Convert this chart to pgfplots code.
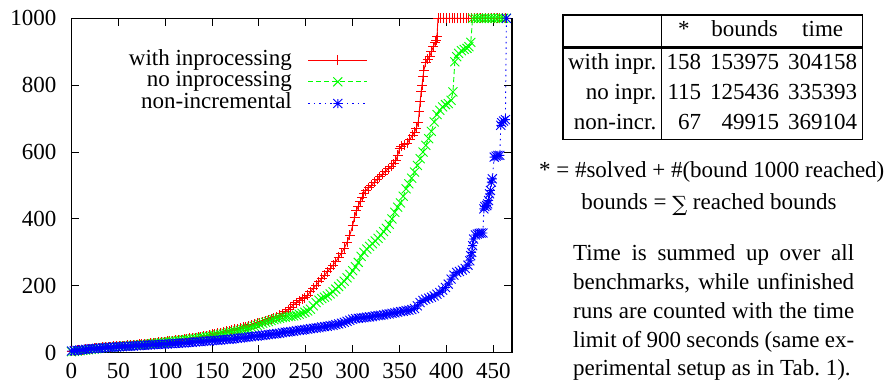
\documentclass[border=0pt]{standalone}
\usepackage{fontspec}
\setmainfont{Liberation Serif}
\newfontfamily\dejavuserif{DejaVu Serif}
\usepackage{pgfplots}
\pgfplotsset{compat=1.18}
\usepackage{pgfplotstable}

\pgfdeclareplotmark{gpplus}{%
  \pgfpathmoveto{\pgfqpoint{-\pgfplotmarksize}{0pt}}\pgfpathlineto{\pgfqpoint{\pgfplotmarksize}{0pt}}%
  \pgfpathmoveto{\pgfqpoint{0pt}{-\pgfplotmarksize}}\pgfpathlineto{\pgfqpoint{0pt}{\pgfplotmarksize}}%
  \pgfusepathqstroke}
\pgfdeclareplotmark{gpcross}{%
  \pgfpathmoveto{\pgfqpoint{-\pgfplotmarksize}{-\pgfplotmarksize}}\pgfpathlineto{\pgfqpoint{\pgfplotmarksize}{\pgfplotmarksize}}%
  \pgfpathmoveto{\pgfqpoint{-\pgfplotmarksize}{\pgfplotmarksize}}\pgfpathlineto{\pgfqpoint{\pgfplotmarksize}{-\pgfplotmarksize}}%
  \pgfusepathqstroke}
\pgfdeclareplotmark{gpstar}{%
  \pgfpathmoveto{\pgfqpoint{-\pgfplotmarksize}{0pt}}\pgfpathlineto{\pgfqpoint{\pgfplotmarksize}{0pt}}%
  \pgfpathmoveto{\pgfqpoint{0pt}{-\pgfplotmarksize}}\pgfpathlineto{\pgfqpoint{0pt}{\pgfplotmarksize}}%
  \pgfpathmoveto{\pgfqpoint{-\pgfplotmarksize}{-\pgfplotmarksize}}\pgfpathlineto{\pgfqpoint{\pgfplotmarksize}{\pgfplotmarksize}}%
  \pgfpathmoveto{\pgfqpoint{-\pgfplotmarksize}{\pgfplotmarksize}}\pgfpathlineto{\pgfqpoint{\pgfplotmarksize}{-\pgfplotmarksize}}%
  \pgfusepathqstroke}

% with inprocessing
\pgfplotstableread[row sep=\\]{
x y\\
0 5\\ 3 6\\ 6 7\\ 9 8\\ 12 9\\ 15 10\\ 18 11\\ 21 12\\ 24 13\\ 27 14\\ 30 15\\ 33 16\\ 36 17\\ 39 17\\ 42 18\\ 45 19\\ 48 19\\ 51 20\\ 54 21\\ 57 21\\ 60 22\\ 63 23\\ 66 23\\ 69 24\\ 72 25\\ 75 26\\ 78 26\\ 81 27\\ 84 28\\ 87 29\\ 90 30\\ 93 31\\ 96 32\\ 99 33\\ 102 34\\ 105 35\\ 108 36\\ 111 37\\ 114 38\\ 117 39\\ 120 40\\ 123 41\\ 126 43\\ 129 44\\ 132 45\\ 135 47\\ 138 48\\ 141 50\\ 144 51\\ 147 53\\ 150 55\\ 153 57\\ 156 58\\ 159 60\\ 162 62\\ 165 64\\ 168 66\\ 171 68\\ 174 70\\ 177 72\\ 180 74\\ 183 76\\ 186 78\\ 189 80\\ 192 83\\ 195 85\\ 198 88\\ 201 90\\ 204 93\\ 207 96\\ 210 99\\ 213 102\\ 216 105\\ 219 108\\ 222 112\\ 225 117\\ 228 123\\ 231 129\\ 234 136\\ 237 143\\ 240 150\\ 243 156\\ 246 161\\ 249 165\\ 252 172\\ 255 183\\ 258 193\\ 261 202\\ 264 212\\ 267 222\\ 270 232\\ 273 242\\ 276 252\\ 279 262\\ 282 272\\ 285 285\\ 288 298\\ 291 312\\ 294 330\\ 297 352\\ 300 380\\ 302 405\\ 304 425\\ 306 438\\ 308 452\\ 310 465\\ 312 475\\ 314 485\\ 317 493\\ 320 500\\ 323 510\\ 326 518\\ 329 526\\ 332 534\\ 335 543\\ 338 550\\ 341 557\\ 344 565\\ 346 575\\ 348 590\\ 350 610\\ 352 618\\ 355 622\\ 358 626\\ 361 638\\ 364 651\\ 366 660\\ 368 672\\ 370 690\\ 371 720\\ 372 750\\ 373 780\\ 374 800\\ 375 825\\ 376 845\\ 378 868\\ 380 878\\ 382 885\\ 384 900\\ 386 915\\ 388 928\\ 389 935\\ 390 945\\ 391 1000\\ 394 1000\\ 397 1000\\ 400 1000\\ 403 1000\\ 406 1000\\ 409 1000\\ 412 1000\\ 415 1000\\ 418 1000\\ 421 1000\\ 424 1000\\ 427 1000\\ 430 1000\\ 433 1000\\ 436 1000\\ 439 1000\\ 442 1000\\ 445 1000\\ 448 1000\\ 451 1000\\ 454 1000\\ 457 1000\\ 460 1000\\ 463 1000\\
}\redtab

% no inprocessing
\pgfplotstableread[row sep=\\]{
x y\\
0 3\\ 3 4\\ 6 5\\ 9 6\\ 12 7\\ 15 8\\ 18 9\\ 21 10\\ 24 11\\ 27 12\\ 30 13\\ 33 14\\ 36 15\\ 39 16\\ 42 16\\ 45 17\\ 48 18\\ 51 18\\ 54 19\\ 57 20\\ 60 20\\ 63 21\\ 66 22\\ 69 22\\ 72 23\\ 75 24\\ 78 24\\ 81 25\\ 84 26\\ 87 27\\ 90 28\\ 93 29\\ 96 30\\ 99 31\\ 102 32\\ 105 33\\ 108 34\\ 111 35\\ 114 36\\ 117 37\\ 120 38\\ 123 39\\ 126 40\\ 129 41\\ 132 42\\ 135 44\\ 138 45\\ 141 46\\ 144 48\\ 147 49\\ 150 50\\ 153 52\\ 156 53\\ 159 55\\ 162 56\\ 165 58\\ 168 60\\ 171 62\\ 174 63\\ 177 65\\ 180 67\\ 183 69\\ 186 71\\ 189 73\\ 192 76\\ 195 79\\ 198 82\\ 201 85\\ 204 88\\ 207 91\\ 210 93\\ 213 96\\ 216 99\\ 219 101\\ 222 103\\ 225 105\\ 228 106\\ 231 108\\ 234 109\\ 237 110\\ 240 112\\ 243 115\\ 246 118\\ 249 121\\ 252 125\\ 255 130\\ 258 140\\ 261 150\\ 264 157\\ 267 162\\ 270 166\\ 273 170\\ 276 176\\ 279 182\\ 282 190\\ 285 198\\ 288 206\\ 291 214\\ 294 224\\ 297 234\\ 300 245\\ 303 257\\ 306 270\\ 309 288\\ 312 300\\ 315 310\\ 318 318\\ 321 326\\ 324 334\\ 327 342\\ 330 352\\ 333 362\\ 336 372\\ 339 384\\ 342 400\\ 345 420\\ 348 435\\ 351 448\\ 354 468\\ 357 490\\ 360 505\\ 363 522\\ 366 540\\ 369 560\\ 372 580\\ 375 600\\ 378 620\\ 381 640\\ 384 662\\ 387 690\\ 390 712\\ 393 725\\ 396 735\\ 399 742\\ 402 745\\ 405 755\\ 407 780\\ 409 870\\ 411 885\\ 413 895\\ 416 903\\ 419 907\\ 422 910\\ 424 915\\ 426 928\\ 428 1000\\ 431 1000\\ 434 1000\\ 437 1000\\ 440 1000\\ 443 1000\\ 446 1000\\ 449 1000\\ 452 1000\\ 455 1000\\ 458 1000\\ 461 1000\\ 464 1000\\
}\greentab

% non-incremental
\pgfplotstableread[row sep=\\]{
x y\\
0 5\\ 3 6\\ 6 7\\ 9 8\\ 12 9\\ 15 10\\ 18 11\\ 21 12\\ 24 12\\ 27 13\\ 30 14\\ 33 14\\ 36 15\\ 39 16\\ 42 16\\ 45 17\\ 48 17\\ 51 18\\ 54 18\\ 57 19\\ 60 19\\ 63 20\\ 66 20\\ 69 21\\ 72 21\\ 75 22\\ 78 22\\ 81 23\\ 84 23\\ 87 24\\ 90 24\\ 93 25\\ 96 25\\ 99 26\\ 102 26\\ 105 27\\ 108 27\\ 111 28\\ 114 28\\ 117 29\\ 120 29\\ 123 30\\ 126 31\\ 129 31\\ 132 32\\ 135 33\\ 138 33\\ 141 34\\ 144 35\\ 147 35\\ 150 36\\ 153 37\\ 156 37\\ 159 38\\ 162 39\\ 165 40\\ 168 40\\ 171 41\\ 174 42\\ 177 43\\ 180 44\\ 183 45\\ 186 46\\ 189 47\\ 192 48\\ 195 49\\ 198 50\\ 201 51\\ 204 52\\ 207 53\\ 210 54\\ 213 55\\ 216 56\\ 219 57\\ 222 58\\ 225 60\\ 228 61\\ 231 62\\ 234 63\\ 237 64\\ 240 66\\ 243 67\\ 246 68\\ 249 69\\ 252 70\\ 255 72\\ 258 73\\ 261 74\\ 264 75\\ 267 77\\ 270 78\\ 273 79\\ 276 81\\ 279 82\\ 282 84\\ 285 86\\ 288 88\\ 291 91\\ 294 94\\ 297 97\\ 300 100\\ 303 102\\ 306 103\\ 309 104\\ 312 105\\ 315 106\\ 318 107\\ 321 108\\ 324 110\\ 327 111\\ 330 112\\ 333 113\\ 336 115\\ 339 116\\ 342 118\\ 345 119\\ 348 121\\ 351 123\\ 354 124\\ 357 126\\ 360 127\\ 363 129\\ 366 132\\ 369 140\\ 372 150\\ 375 156\\ 378 160\\ 381 163\\ 384 166\\ 387 170\\ 390 175\\ 393 180\\ 396 187\\ 399 195\\ 402 205\\ 405 220\\ 408 232\\ 411 240\\ 414 243\\ 417 247\\ 420 252\\ 423 262\\ 425 275\\ 426 290\\ 427 300\\ 428 320\\ 429 340\\ 431 352\\ 433 355\\ 435 357\\ 437 358\\ 439 358\\ 440 430\\ 441 437\\ 443 440\\ 444 445\\ 445 455\\ 446 475\\ 447 485\\ 448 510\\ 449 520\\ 451 585\\ 453 588\\ 455 590\\ 457 590\\ 458 680\\ 459 688\\ 461 693\\ 463 697\\ 464 1000\\
}\bluetab

\begin{document}
\rmfamily\fontsize{23}{27.6}\selectfont
\begin{tikzpicture}[font=\rmfamily\fontsize{23}{27.6}\selectfont]
\path[use as bounding box] (0pt,0pt) rectangle (894pt,383pt);
\begin{axis}[
  at={(71.5pt,30.3pt)}, anchor=south west,
  scale only axis, width=440.5pt, height=334.4pt,
  xmin=0, xmax=470, ymin=0, ymax=1000,
  xtick={0,50,...,450}, ytick={0,200,...,1000},
  tick align=inside, major tick length=8pt,
  every tick/.style={black, line width=1pt},
  axis line style={line width=1.5pt},
  clip=false,
  scaled ticks=false,
  /pgf/number format/1000 sep={},
  /pgf/number format/assume math mode=true,
  tick label style={font=\rmfamily\fontsize{23}{27.6}\selectfont},
  xticklabel style={inner sep=0pt, yshift=-10.8pt},
  yticklabel style={inner sep=0pt, xshift=-15pt},
  legend plot pos=right,
  legend cell align=right,
  legend image code/.code={\draw[mark repeat=2,mark phase=2,#1] plot coordinates {(0pt,0pt) (29.5pt,0pt) (59pt,0pt)};},
  legend style={draw=none, fill=none, at={(0.673,0.908)}, anchor=north east,
    inner sep=0pt, row sep=0pt, column sep=16pt,
    font=\rmfamily\fontsize{23}{27.6}\selectfont,
    nodes={inner sep=0pt, text height=16pt, text depth=5.7pt}},
]
\addplot[red, line width=0.9pt, mark=gpplus, mark size=5pt, mark options={solid}] table[x=x,y=y] {\redtab};
\addlegendentry{with inprocessing}
\addplot[green, line width=0.9pt, dash pattern=on 5pt off 3pt, mark=gpcross, mark size=4.5pt, mark options={solid}] table[x=x,y=y] {\greentab};
\addlegendentry{no inprocessing}
\addplot[blue, line width=0.9pt, dash pattern=on 1.5pt off 4pt, mark=gpstar, mark size=4.5pt, mark options={solid}] table[x=x,y=y] {\bluetab};
\addlegendentry{non-incremental}
\end{axis}

\node[anchor=north west, inner sep=0pt] at (562pt,368.7pt) {%
  \rmfamily\fontsize{23}{30}\selectfont\setlength{\arrayrulewidth}{1.4pt}\setlength{\tabcolsep}{4.5pt}\setlength{\doublerulesep}{0pt}%
  \begin{tabular}{|r|rrr|}
  \hline
   & \multicolumn{1}{c}{*} & \multicolumn{1}{c}{bounds} & \multicolumn{1}{c|}{time}\\
  \hline\hline
  with inpr. & 158 & 153975 & 304158\\
  no inpr. & 115 & 125436 & 335393\\
  non-incr. & 67 & 49915 & 369104\\
  \hline
  \end{tabular}};
\node[anchor=base, inner sep=0pt] at (711.7pt,205.7pt) {* = \#solved + \#(bound 1000 reached)};
\node[anchor=base, inner sep=0pt] at (709pt,173pt) {bounds = {\dejavuserif\fontsize{21}{25}\selectfont\raisebox{-2pt}{∑}} reached bounds};
\node[anchor=base west, inner sep=0pt, text width=281pt, align=justify, font=\rmfamily\fontsize{23}{28.75}\selectfont] at (573pt,122pt)
  {Time is summed up over all\linebreak benchmarks, while unfinished\linebreak runs are counted with the time\linebreak limit of 900 seconds (same ex-\linebreak perimental setup as in Tab.~1).};
\end{tikzpicture}
\end{document}
